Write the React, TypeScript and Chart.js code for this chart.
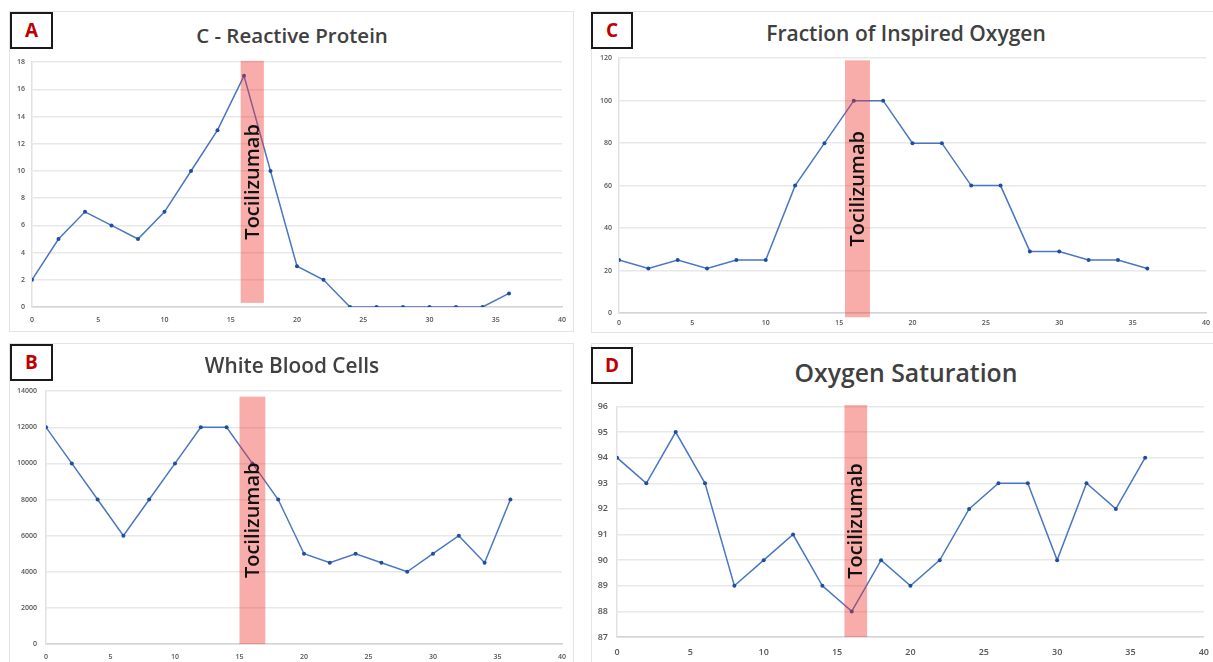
import React, { useEffect, useRef } from "react";
import { Chart, registerables } from "chart.js";

Chart.register(...registerables);

// ---------- data ----------
const days = [0, 2, 4, 6, 8, 10, 12, 14, 16, 18, 20, 22, 24, 26, 28, 30, 32, 34, 36];
const crpValues = [2, 5, 7, 6, 5, 7, 10, 13, 17, 10, 3, 2, 0, 0, 0, 0, 0, 0, 1];
const wbcValues = [12000, 10000, 8000, 6000, 8000, 10000, 12000, 12000, 10000, 8000, 5000, 4500, 5000, 4500, 4000, 5000, 6000, 4500, 8000];
const fio2Values = [25, 21, 25, 21, 25, 25, 60, 80, 100, 100, 80, 80, 60, 60, 29, 29, 25, 25, 21];
const spo2Values = [94, 93, 95, 93, 89, 90, 91, 89, 88, 90, 89, 90, 92, 93, 93, 90, 93, 92, 94];

// axis [min, max, step]
const xAxisRange = [0, 40, 5];
const crpAxis = [0, 18, 2];
const wbcAxis = [0, 14000, 2000];
const fio2Axis = [0, 120, 20];
const spo2Axis = [87, 96, 1];

// treatment band [xStart, xEnd, yBottom, yTop] in data units
const crpBand = [15.75, 17.5, 0.3, 18.1];
const wbcBand = [15, 17, 0, 13700];
const fio2Band = [15.4, 17.1, -2, 119];
const spo2Band = [15.5, 17.05, 87, 96.05];
const bandLabel = "Tocilizumab";

const titles = ["C - Reactive Protein", "White Blood Cells", "Fraction of Inspired Oxygen", "Oxygen Saturation"];
const panelLetters = ["A", "B", "C", "D"];

// ---------- plugin ----------
const bandPlugin = {
  id: "tociBand",
  afterDatasetsDraw(chart: any, _args: any, opts: any) {
    const { ctx, scales } = chart;
    const x = scales.x;
    const y = scales.y;
    const [xs, xe, yb, yt] = opts.range;
    const x0 = x.getPixelForValue(xs);
    const x1 = x.getPixelForValue(xe);
    const yTop = y.getPixelForValue(yt);
    const yBot = y.getPixelForValue(yb);
    ctx.save();
    ctx.fillStyle = "rgba(240, 50, 45, 0.4)";
    ctx.fillRect(x0, yTop, x1 - x0, yBot - yTop);
    ctx.translate((x0 + x1) / 2 + 1, (yTop + yBot) / 2);
    ctx.rotate(-Math.PI / 2);
    ctx.font = "600 20px 'Open Sans'";
    ctx.fillStyle = "#111111";
    ctx.textAlign = "center";
    ctx.textBaseline = "middle";
    ctx.fillText(opts.text, 0, 0);
    ctx.restore();
  },
};

type PanelCfg = {
  values: number[];
  yAxis: number[];
  band: number[];
  plot: [number, number, number, number]; // left, top, right, bottom (page px)
  tickFont: number;
  xPad: number;
  yPad: number;
};

const YW = 40;
const PAD_TOP = 10;
const PAD_RIGHT = 14;
const XH = 26;

function ChartPanel({ cfg }: { cfg: PanelCfg }) {
  const ref = useRef<HTMLCanvasElement | null>(null);
  const [l, t, r, b] = cfg.plot;
  const w = r - l + YW + PAD_RIGHT;
  const h = b - t + PAD_TOP + XH;
  useEffect(() => {
    if (!ref.current) return;
    const tickColor = "#555555";
    const chart = new Chart(ref.current, {
      type: "line",
      data: {
        labels: days,
        datasets: [
          {
            data: days.map((d, i) => ({ x: d, y: cfg.values[i] })),
            borderColor: "#4a76c2",
            borderWidth: 1.5,
            pointRadius: 2,
            pointBackgroundColor: "#1f4ea0",
            pointBorderColor: "#1f4ea0",
            pointBorderWidth: 0,
            tension: 0,
            fill: false,
          },
        ],
      },
      options: {
        responsive: false,
        animation: false,
        devicePixelRatio: 1,
        layout: { padding: { left: 0, top: PAD_TOP, right: PAD_RIGHT, bottom: 0 } },
        plugins: {
          legend: { display: false },
          tooltip: { enabled: false },
          tociBand: { range: cfg.band, text: bandLabel },
        } as any,
        scales: {
          x: {
            type: "linear",
            min: xAxisRange[0],
            max: xAxisRange[1],
            afterFit: (s: any) => {
              s.height = XH;
            },
            ticks: {
              stepSize: xAxisRange[2],
              color: tickColor,
              font: { family: "'Open Sans'", size: cfg.tickFont, weight: "600" },
              padding: cfg.xPad,
              maxRotation: 0,
              callback: (v: any) => String(v),
            },
            grid: { display: false, drawTicks: false },
            border: { display: true, color: "#d4d4d4", width: 1.5 },
          },
          y: {
            type: "linear",
            min: cfg.yAxis[0],
            max: cfg.yAxis[1],
            afterFit: (s: any) => {
              s.width = YW;
            },
            ticks: {
              stepSize: cfg.yAxis[2],
              color: tickColor,
              font: { family: "'Open Sans'", size: cfg.tickFont, weight: "600" },
              padding: cfg.yPad,
              callback: (v: any) => String(v),
            },
            grid: { display: true, color: "#e8e8e8", lineWidth: 1.5, drawTicks: false },
            border: { display: true, color: "#e2e2e2", width: 1.5 },
          },
        },
      } as any,
      plugins: [bandPlugin as any],
    });
    return () => chart.destroy();
  }, []);
  return (
    <canvas
      ref={ref}
      width={w}
      height={h}
      style={{ position: "absolute", left: l - YW, top: t - PAD_TOP, width: w, height: h }}
    />
  );
}

const panelCfgs: PanelCfg[] = [
  { values: crpValues, yAxis: crpAxis, band: crpBand, plot: [32, 61, 562, 307], tickFont: 7, xPad: 9, yPad: 7 },
  { values: wbcValues, yAxis: wbcAxis, band: wbcBand, plot: [46, 388, 562, 644], tickFont: 7, xPad: 9, yPad: 9 },
  { values: fio2Values, yAxis: fio2Axis, band: fio2Band, plot: [619, 57, 1206, 313], tickFont: 7, xPad: 6, yPad: 7 },
  { values: spo2Values, yAxis: spo2Axis, band: spo2Band, plot: [617, 402, 1205, 637], tickFont: 9, xPad: 10, yPad: 9 },
];

const frames = [
  { left: 9, top: 11, width: 565, height: 321 },
  { left: 9, top: 343, width: 565, height: 330 },
  { left: 591, top: 11, width: 630, height: 322 },
  { left: 591, top: 343, width: 630, height: 330 },
];

const letterBoxes = [
  { left: 10, top: 12, width: 43, height: 37 },
  { left: 10, top: 344, width: 43, height: 37 },
  { left: 591, top: 12, width: 42, height: 37 },
  { left: 591, top: 347, width: 42, height: 37 },
];

const titlePos = [
  { x: 292, y: 35, size: 20.5 },
  { x: 292, y: 365, size: 20.8 },
  { x: 906, y: 33, size: 21 },
  { x: 906, y: 372, size: 24.8 },
];

export default function App() {
  return (
    <div
      style={{
        position: "absolute",
        left: 0,
        top: 0,
        width: 1213,
        height: 662,
        overflow: "hidden",
        background: "#ffffff",
        fontFamily: "'Open Sans', sans-serif",
      }}
    >
      {frames.map((f, i) => (
        <div
          key={"f" + i}
          style={{
            position: "absolute",
            left: f.left,
            top: f.top,
            width: f.width,
            height: f.height,
            border: "1px solid #e4e4e4",
            boxSizing: "border-box",
          }}
        />
      ))}
      {panelCfgs.map((c, i) => (
        <ChartPanel key={"c" + i} cfg={c} />
      ))}
      {titlePos.map((p, i) => (
        <div
          key={"t" + i}
          style={{
            position: "absolute",
            left: p.x,
            top: p.y,
            transform: "translate(-50%, -50%)",
            whiteSpace: "nowrap",
            fontSize: p.size,
            fontWeight: 600,
            color: "#404040",
            lineHeight: 1,
          }}
        >
          {titles[i]}
        </div>
      ))}
      {letterBoxes.map((b, i) => (
        <div
          key={"l" + i}
          style={{
            position: "absolute",
            left: b.left,
            top: b.top,
            width: b.width,
            height: b.height,
            border: "2px solid #1a1a1a",
            boxSizing: "border-box",
            background: "#ffffff",
            display: "flex",
            alignItems: "center",
            justifyContent: "center",
            color: "#c00000",
            fontWeight: 700,
            fontSize: 19,
            lineHeight: 1,
          }}
        >
          {panelLetters[i]}
        </div>
      ))}
    </div>
  );
}
